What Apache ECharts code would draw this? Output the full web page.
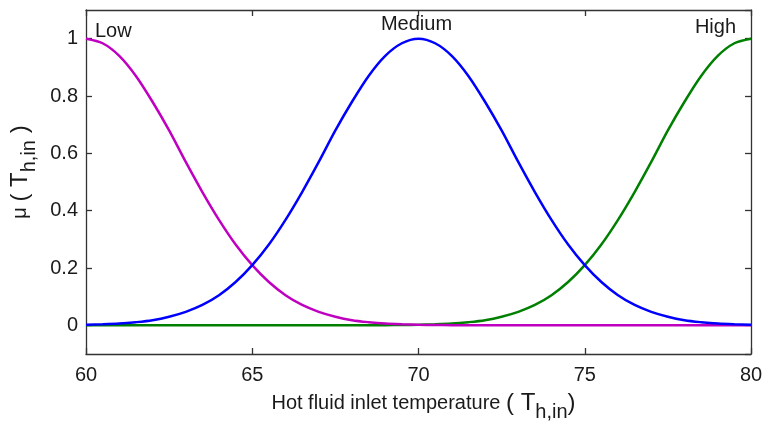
<!DOCTYPE html>
<html>
<head>
<meta charset="utf-8">
<script src="https://cdn.jsdelivr.net/npm/echarts@6/dist/echarts.min.js"></script>
<style>
  html, body { margin: 0; padding: 0; background: #fff; }
  #chart { width: 763px; height: 421px; }
</style>
</head>
<body>
<div id="chart"></div>
<script>
// Temperature samples (°C), every 0.5 from 60 to 80
const temps = [60, 60.5, 61, 61.5, 62, 62.5, 63, 63.5, 64, 64.5, 65, 65.5, 66, 66.5, 67, 67.5, 68, 68.5, 69, 69.5,
               70, 70.5, 71, 71.5, 72, 72.5, 73, 73.5, 74, 74.5, 75, 75.5, 76, 76.5, 77, 77.5, 78, 78.5, 79, 79.5, 80];

// Membership degrees of the three fuzzy sets
const lowMu = [1.0, 0.984, 0.94, 0.87, 0.78, 0.68, 0.57, 0.465, 0.368, 0.282, 0.21, 0.151, 0.105, 0.071, 0.047, 0.03, 0.018, 0.011, 0.006, 0.0035,
               0.002, 0.001, 0.0006, 0.0003, 0.0001, 0, 0, 0, 0, 0, 0, 0, 0, 0, 0, 0, 0, 0, 0, 0, 0];
const mediumMu = [0.002, 0.0035, 0.006, 0.011, 0.018, 0.03, 0.047, 0.071, 0.105, 0.151, 0.21, 0.282, 0.368, 0.465, 0.57, 0.68, 0.78, 0.87, 0.94, 0.984,
                  1.0, 0.984, 0.94, 0.87, 0.78, 0.68, 0.57, 0.465, 0.368, 0.282, 0.21, 0.151, 0.105, 0.071, 0.047, 0.03, 0.018, 0.011, 0.006, 0.0035, 0.002];
const highMu = [0, 0, 0, 0, 0, 0, 0, 0, 0, 0, 0, 0, 0, 0, 0, 0, 0.0001, 0.0003, 0.0006, 0.001,
                0.002, 0.0035, 0.006, 0.011, 0.018, 0.03, 0.047, 0.071, 0.105, 0.151, 0.21, 0.282, 0.368, 0.465, 0.57, 0.68, 0.78, 0.87, 0.94, 0.984, 1.0];

// Set names and where they are written (x, y in data units)
const setNames = ['Low', 'Medium', 'High'];
const nameX = [60.27, 69.94, 79.55];
const nameY = [1.024, 1.049, 1.04];

const xTicks = [60, 65, 70, 75, 80];

const FONT = '"Liberation Sans", Arial, sans-serif';
const INK = '#1a1a1a';

const pairs = (ys) => temps.map((t, i) => [t, ys[i]]);

const chart = echarts.init(document.getElementById('chart'), null, { renderer: 'canvas' });

const frameAxis = {
  axisLine: { show: true, onZero: false, lineStyle: { color: '#333', width: 1.3 } },
  axisTick: { show: true, inside: true, length: 6, lineStyle: { color: '#333', width: 1.3 } },
  splitLine: { show: false }
};

const subRich = {
  txt: { fontFamily: FONT, fontSize: 20, color: INK },
  big: { fontFamily: FONT, fontSize: 24, color: INK },
  sub: { fontFamily: FONT, fontSize: 20, color: INK, padding: [17, 0, 0, 0] }
};

chart.setOption({
  animation: false,
  backgroundColor: '#fff',
  grid: { left: 86, right: 12, top: 10, bottom: 67, containLabel: false, outerBoundsMode: 'none' },
  xAxis: [
    Object.assign({
      type: 'value', min: xTicks[0], max: xTicks[xTicks.length - 1], interval: 5,
      position: 'bottom',
      axisLabel: { fontFamily: FONT, fontSize: 20, color: INK, margin: 11 },
      name: '{txt|Hot fluid inlet temperature }{big|( T}{sub|h,in}{big|)}',
      nameLocation: 'middle', nameGap: 31,
      nameTextStyle: { rich: subRich, padding: [0, 0, 0, 10] }
    }, frameAxis),
    Object.assign({
      type: 'value', min: xTicks[0], max: xTicks[xTicks.length - 1], interval: 5,
      position: 'top', axisLabel: { show: false }
    }, frameAxis)
  ],
  yAxis: [
    Object.assign({
      type: 'value', min: -0.1, max: 1.1, splitNumber: 6,
      position: 'left',
      axisLabel: {
        fontFamily: FONT, fontSize: 20, color: INK, margin: 8,
        showMinLabel: false, showMaxLabel: false,
        formatter: (v) => (Math.abs(v * 5 - Math.round(v * 5)) < 1e-6 ? String(+v.toFixed(1)) : '')
      },
      name: '{txt|μ }{big|( T}{sub|h,in}{big| )}',
      nameLocation: 'middle', nameGap: 40, nameRotate: 90,
      nameTextStyle: { rich: subRich, padding: [0, 0, 0, 20] }
    }, frameAxis),
    Object.assign({
      type: 'value', min: -0.1, max: 1.1, splitNumber: 6,
      position: 'right', axisLabel: { show: false }
    }, frameAxis)
  ],
  series: [
    { name: 'Low', type: 'line', data: pairs(lowMu), showSymbol: false, smooth: 0.3,
      lineStyle: { color: '#c000c0', width: 2.5 }, itemStyle: { color: '#c000c0' }, z: 3 },
    { name: 'Medium', type: 'line', data: pairs(mediumMu), showSymbol: false, smooth: 0.3,
      lineStyle: { color: '#0000ff', width: 2.5 }, itemStyle: { color: '#0000ff' }, z: 4 },
    { name: 'High', type: 'line', data: pairs(highMu), showSymbol: false, smooth: 0.3,
      lineStyle: { color: '#008000', width: 2.5 }, itemStyle: { color: '#008000' }, z: 2 },
    {
      type: 'scatter', symbolSize: 0, silent: true, z: 5,
      itemStyle: { opacity: 1 },
      data: setNames.map((n, i) => ({
        value: [nameX[i], nameY[i]],
        name: n,
        label: { align: i === 0 ? 'left' : (i === 1 ? 'center' : 'right') }
      })),
      label: {
        show: true, position: 'inside', formatter: (p) => p.name, opacity: 1,
        fontFamily: FONT, fontSize: 20, color: INK, verticalAlign: 'middle'
      }
    }
  ]
});
</script>
</body>
</html>
